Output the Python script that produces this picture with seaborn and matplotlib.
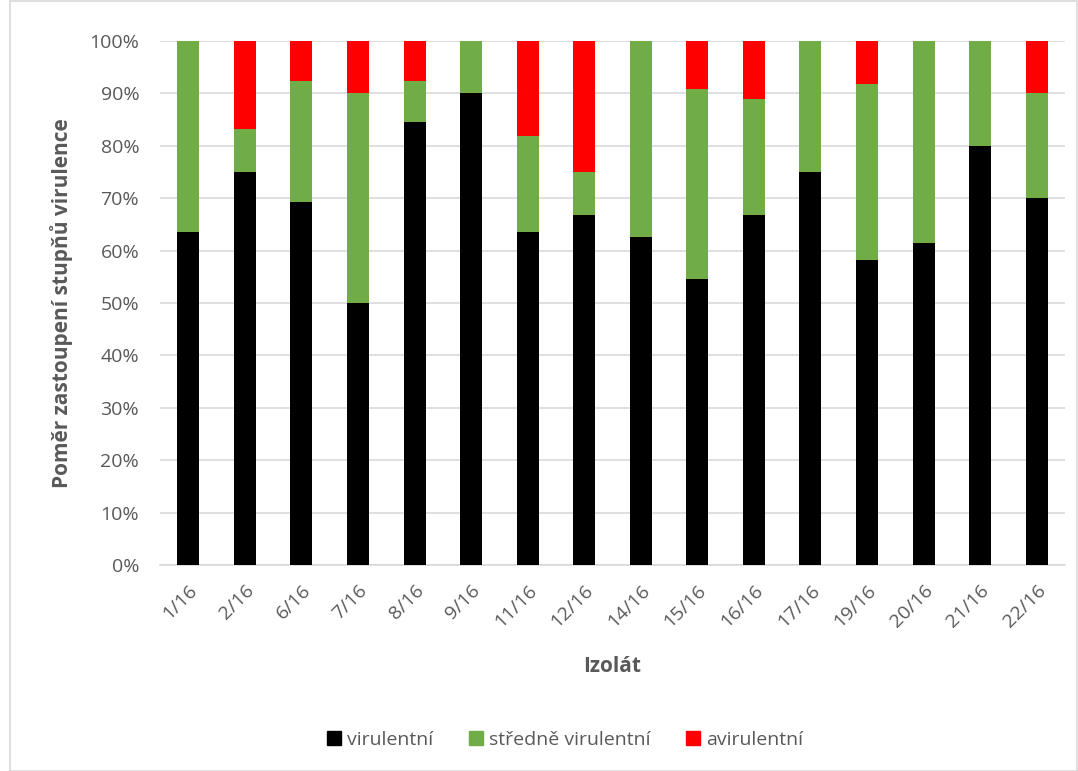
import matplotlib
matplotlib.use("Agg")
import matplotlib.pyplot as plt
import matplotlib.patches as mpatches
import seaborn as sns
import pandas as pd
import numpy as np

isolates = ["1/16", "2/16", "6/16", "7/16", "8/16", "9/16", "11/16", "12/16",
            "14/16", "15/16", "16/16", "17/16", "19/16", "20/16", "21/16", "22/16"]
virulentni = [63.6, 75.0, 69.2, 50.0, 84.6, 90.0, 63.6, 66.7,
              62.5, 54.5, 66.7, 75.0, 58.3, 61.5, 80.0, 70.0]
stredne = [36.4, 8.3, 23.1, 40.0, 7.7, 10.0, 18.2, 8.3,
           37.5, 36.4, 22.2, 25.0, 33.4, 38.5, 20.0, 20.0]
avirulentni = [0.0, 16.7, 7.7, 10.0, 7.7, 0.0, 18.2, 25.0,
               0.0, 9.1, 11.1, 0.0, 8.3, 0.0, 0.0, 10.0]
series_names = ["virulentní", "středně virulentní", "avirulentní"]
colors = ["#000000", "#70AD47", "#FF0000"]

df = pd.DataFrame({"Izolát": isolates, "v": virulentni, "s": stredne, "a": avirulentni})
df["c1"] = df["v"]
df["c2"] = df["v"] + df["s"]
df["c3"] = df["v"] + df["s"] + df["a"]

sns.set_theme(style="white")
plt.rcParams['font.family'] = ['Open Sans', 'DejaVu Sans']
text_col = "#595959"

fig = plt.figure(figsize=(10.78, 7.71), dpi=100)
ax = fig.add_axes([160/1078, 1-565/771, (1065-160)/1078, (565-41)/771])

for col, c in zip(["c3", "c2", "c1"], [colors[2], colors[1], colors[0]]):
    sns.barplot(data=df, x="Izolát", y=col, color=c, width=0.39, ax=ax,
                saturation=1, edgecolor="none", linewidth=0, zorder=3)

ax.set_ylim(0, 100)
ax.set_xlim(-0.5, len(isolates) - 0.5)
ax.set_yticks(np.arange(0, 101, 10))
ax.set_yticklabels([f"{v}%" for v in range(0, 101, 10)], color=text_col, fontsize=14)
ax.yaxis.grid(True, color="#d9d9d9", linewidth=1.2, zorder=0)
ax.set_axisbelow(True)
for s in ["top", "right", "left"]:
    ax.spines[s].set_visible(False)
ax.spines["bottom"].set_color("#d9d9d9")
ax.spines["bottom"].set_linewidth(1.2)
ax.tick_params(axis="y", length=0, pad=15)
ax.tick_params(axis="x", length=0, pad=12)
ax.set_xticks(range(len(isolates)))
ax.set_xticklabels(isolates, rotation=45, ha="right", rotation_mode="anchor",
                   color=text_col, fontsize=14)
ax.set_xlabel("Izolát", fontsize=15, fontweight="bold", color=text_col, labelpad=18)
ax.set_ylabel("Poměr zastoupení stupňů virulence", fontsize=15, fontweight="bold",
              color=text_col, labelpad=12)

handles = [mpatches.Patch(color=c, label=n) for c, n in zip(colors, series_names)]
fig.legend(handles=handles, loc="center", bbox_to_anchor=(565/1078, 1-740/771),
           ncol=3, frameon=False, fontsize=14, handlelength=0.75, handleheight=0.75,
           handletextpad=0.3, columnspacing=1.8, labelcolor=text_col)

fig.patches.append(mpatches.Rectangle((10/1078, 0.5/771), 1 - 11/1078, 1 - 1/771,
                                      transform=fig.transFigure, fill=False,
                                      edgecolor="#d9d9d9", linewidth=1.2))

fig.savefig("out.png", dpi=100)
